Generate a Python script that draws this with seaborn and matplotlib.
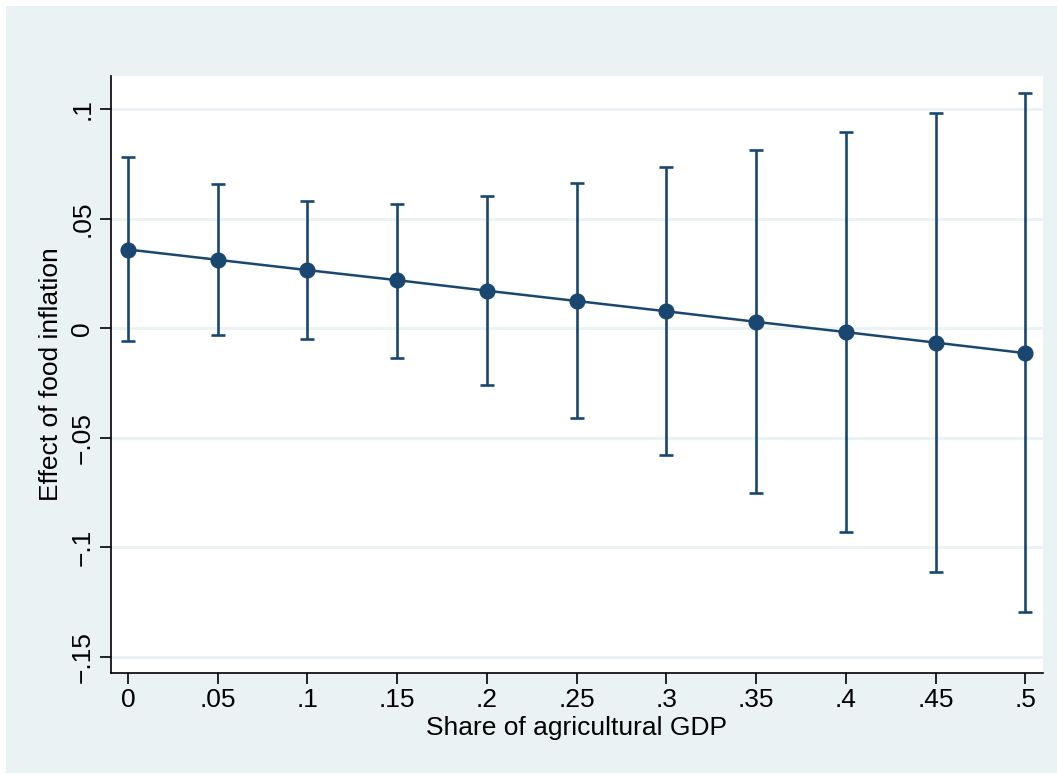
#!/usr/bin/env python3
# Marginal effect of food inflation by share of agricultural GDP

import pandas as pd
import matplotlib
matplotlib.use('Agg')
import matplotlib.pyplot as plt
import seaborn as sns
from matplotlib.patches import Rectangle

sns.set_style('white')
plt.rcParams['font.family'] = ['Liberation Sans', 'DejaVu Sans']
plt.rcParams['text.color'] = 'black'
plt.rcParams['axes.labelcolor'] = 'black'

# Data
ag_share = [0, 0.05, 0.1, 0.15, 0.2, 0.25, 0.3, 0.35, 0.4, 0.45, 0.5]
effect = [0.0360, 0.0313, 0.0266, 0.0220, 0.0172, 0.0125, 0.0078, 0.0030, -0.0017, -0.0065, -0.0113]
ci_upper = [0.0780, 0.0657, 0.0583, 0.0570, 0.0605, 0.0662, 0.0735, 0.0815, 0.0897, 0.0985, 0.1075]
ci_lower = [-0.0059, -0.0031, -0.0050, -0.0135, -0.0258, -0.0410, -0.0580, -0.0752, -0.0930, -0.1113, -0.1295]
x_ticks = [0, 0.05, 0.1, 0.15, 0.2, 0.25, 0.3, 0.35, 0.4, 0.45, 0.5]
x_labels = ['0', '.05', '.1', '.15', '.2', '.25', '.3', '.35', '.4', '.45', '.5']
y_ticks = [-0.15, -0.1, -0.05, 0, 0.05, 0.1]
y_labels = ['\u2212.15', '\u2212.1', '\u2212.05', '0', '.05', '.1']

df = pd.DataFrame({'share': ag_share, 'effect': effect,
                   'upper': ci_upper, 'lower': ci_lower})

navy = '#1a476f'
bg = '#eaf2f3'

fig = plt.figure(figsize=(10.57, 7.74), dpi=100, facecolor='white')
fig.patches.append(Rectangle((6 / 1057, 1 / 774), 1051 / 1057, 767 / 774,
                             transform=fig.transFigure, facecolor=bg,
                             edgecolor='none', zorder=-10))
ax = fig.add_axes([111 / 1057, 101 / 774, 932 / 1057, 597 / 774])
ax.set_facecolor('white')

# horizontal grid
for yv in y_ticks:
    ax.axhline(yv, color=bg, lw=2, zorder=1)

ax.errorbar(df['share'], df['effect'],
            yerr=[df['effect'] - df['lower'], df['upper'] - df['effect']],
            fmt='none', ecolor=navy, elinewidth=1.9, capsize=5, capthick=1.9,
            zorder=2)
sns.lineplot(data=df, x='share', y='effect', color=navy, lw=1.8, ax=ax, zorder=3)
sns.scatterplot(data=df, x='share', y='effect', color=navy, s=135,
                edgecolor=navy, linewidth=0, ax=ax, zorder=4)

ax.set_xlim(-0.0095, 0.5099)
ax.set_ylim(-0.1573, 0.1152)
ax.set_xticks(x_ticks)
ax.set_xticklabels(x_labels)
ax.set_yticks(y_ticks)
ax.set_yticklabels(y_labels, rotation=90, va='center')

ax.tick_params(axis='both', direction='out', length=8, width=1.2,
               color='black', labelsize=19, labelcolor='black',
               bottom=True, left=True)
ax.tick_params(axis='y', pad=4)
ax.tick_params(axis='x', pad=3)

for side in ['top', 'right']:
    ax.spines[side].set_visible(False)
for side in ['left', 'bottom']:
    ax.spines[side].set_color('black')
    ax.spines[side].set_linewidth(1.2)

ax.set_xlabel('Share of agricultural GDP', fontsize=19, labelpad=3)
ax.set_ylabel('Effect of food inflation', fontsize=19, labelpad=5)

plt.savefig('out.png', dpi=100, facecolor=fig.get_facecolor())
